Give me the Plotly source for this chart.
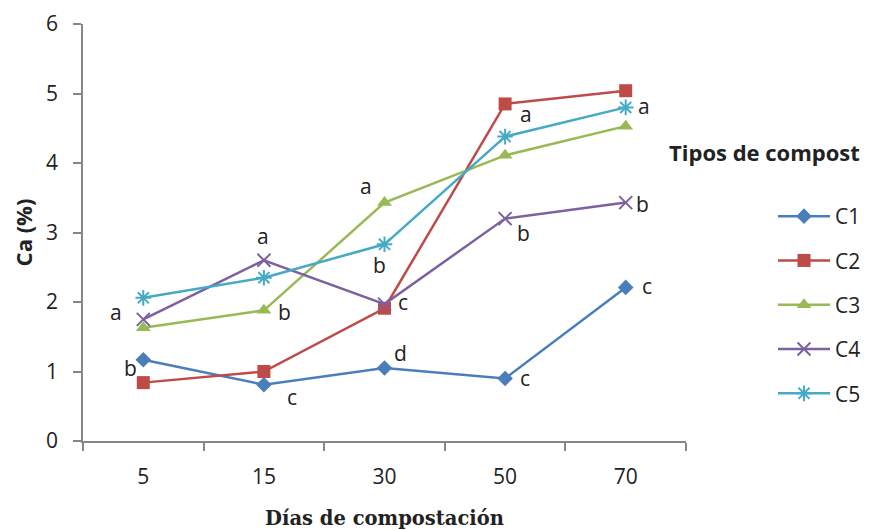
import plotly.graph_objects as go

dias = ["5", "15", "30", "50", "70"]
series_names = ["C1", "C2", "C3", "C4", "C5"]
c1 = [1.17, 0.81, 1.05, 0.90, 2.21]
c2 = [0.84, 1.00, 1.91, 4.85, 5.04]
c3 = [1.63, 1.88, 3.43, 4.11, 4.53]
c4 = [1.75, 2.60, 1.97, 3.20, 3.43]
c5 = [2.06, 2.35, 2.83, 4.38, 4.80]
y_ticks = [0, 1, 2, 3, 4, 5, 6]

# significance letters
letter_text = ["a", "b", "a", "b", "c", "a", "b", "c", "d", "a", "b", "c", "a", "b", "c"]
letter_x = ["5", "5", "15", "15", "15", "30", "30", "30", "30", "50", "50", "50", "70", "70", "70"]
letter_y = [1.81, 1.05, 2.90, 1.85, 0.59, 3.63, 2.53, 1.95, 1.26, 4.66, 3.00, 0.87, 4.77, 3.41, 2.18]
letter_dx = [-27, -13, -1, 21, 28, -19, -5, 18, 16, 21, 18, 20, 18, 17, 21]

colors = ["#4A7EBB", "#BE4B48", "#98B954", "#7D60A0", "#46AAC5"]
symbols = ["diamond", "square", "triangle-up", "x-thin-open", "asterisk-open"]
sizes = [12, 13, 13, 13, 13]
values = [c1, c2, c3, c4, c5]

FONT = "Open Sans"
OFF = 8  # page body margin
W, H = 871 - OFF, 530
ml, mt = 83 - OFF, 24 - OFF
pw, ph = 603, 417
mr, mb = W - ml - pw, H - mt - ph


def px_x(x):
    return (x - OFF - ml) / pw


def px_y(y):
    return (H - mb - (y - OFF)) / ph


fig = go.Figure()
for i, (name, vals) in enumerate(zip(series_names, values)):
    open_sym = symbols[i].endswith("open")
    fig.add_trace(go.Scatter(
        x=dias, y=vals, name=name, mode="lines+markers",
        legendgroup=name,
        line=dict(color=colors[i], width=2.5),
        marker=dict(symbol=symbols[i], size=sizes[i], color=colors[i],
                    line=dict(color=colors[i], width=2 if open_sym else 0)),
    ))

for t, xx, yy, dx in zip(letter_text, letter_x, letter_y, letter_dx):
    fig.add_annotation(x=dias.index(xx), y=yy, text=t, showarrow=False, xshift=dx,
                       yshift=3 if t in ("a", "c") else 0,
                       font=dict(family=FONT, size=21, color="#222"))

fig.add_annotation(x=px_x(764), y=px_y(152), xref="paper", yref="paper",
                   xanchor="center", yanchor="middle",
                   text="<b>Tipos de compost</b>", showarrow=False,
                   font=dict(family=FONT, size=22, color="#222"))

fig.update_layout(
    width=W, height=H,
    margin=dict(l=ml, r=mr, t=mt, b=mb, autoexpand=False),
    plot_bgcolor="white", paper_bgcolor="white",
    font=dict(family=FONT, size=21, color="#222"),
    showlegend=True,
    legend=dict(x=px_x(773), y=px_y(196), xanchor="left", yanchor="top",
                traceorder="grouped", tracegroupgap=14, font=dict(family=FONT, size=21, color="#222"),
                itemwidth=52),
    xaxis=dict(type="category", categoryorder="array", categoryarray=dias, range=[-0.5, 4.5],
               showline=True, linecolor="#868686", linewidth=1.5, ticks="outside",
               tickson="boundaries", ticklen=8, tickcolor="#868686", tickwidth=1.5,
               showgrid=False, zeroline=False, ticklabelstandoff=16,
               title=dict(text="<b>Días de compostación</b>", standoff=22,
                          font=dict(family="DejaVu Serif", size=19.5, color="#222"))),
    yaxis=dict(range=[0, 6], tickvals=y_ticks, showline=True, linecolor="#868686", linewidth=1.5,
               ticks="outside", ticklen=8, tickcolor="#868686", tickwidth=1.5,
               showgrid=False, zeroline=False, ticklabelstandoff=11,
               title=dict(text="<b>Ca (%)</b>", standoff=8, font=dict(family=FONT, size=22, color="#222"))),
)

fig.write_html("out.html")
